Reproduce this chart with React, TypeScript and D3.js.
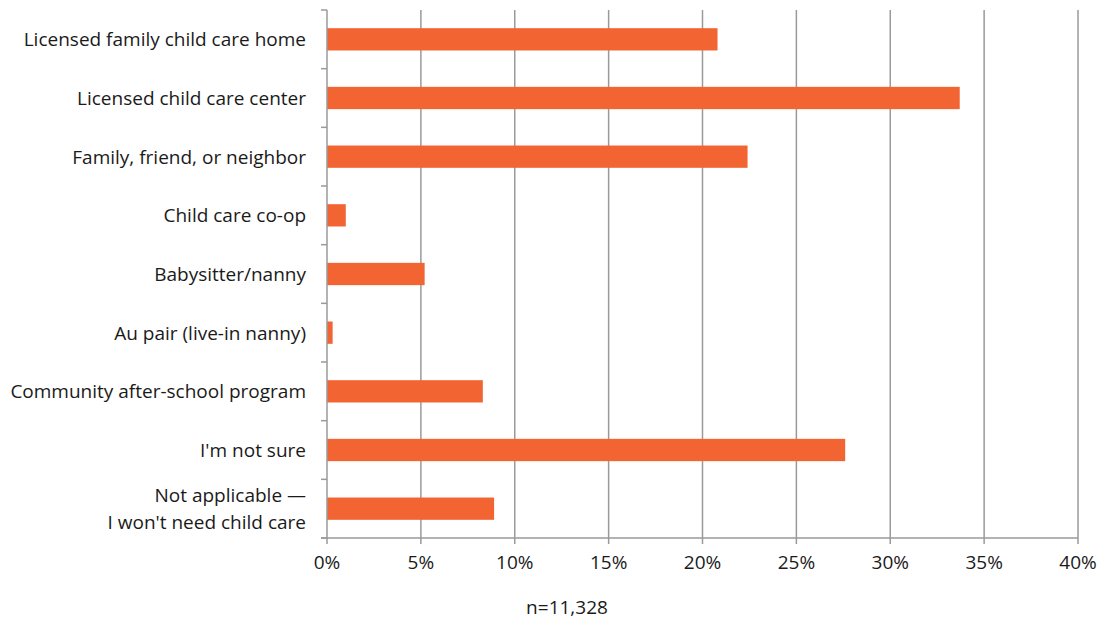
import * as d3 from 'd3'
import { useEffect, useRef } from 'react'

const categories = [
  'Licensed family child care home',
  'Licensed child care center',
  'Family, friend, or neighbor',
  'Child care co-op',
  'Babysitter/nanny',
  'Au pair (live-in nanny)',
  'Community after-school program',
  "I'm not sure",
  "Not applicable —\nI won't need child care",
]
const values = [20.8, 33.7, 22.4, 1.0, 5.2, 0.3, 8.3, 27.6, 8.9]
const xTicks = [0, 5, 10, 15, 20, 25, 30, 35, 40]
const note = 'n=11,328'

const W = 1100
const H = 620
const LEFT = 327
const RIGHT = 1078
const TOP = 10
const BOTTOM = 538
const BAR_COLOR = '#f26532'
const GRID = '#9a9a9a'
const FONT = '"Open Sans", sans-serif'
const FS = 19

export default function App() {
  const svgRef = useRef<SVGSVGElement>(null)

  useEffect(() => {
    if (!svgRef.current) return
    const svg = d3.select(svgRef.current)
    svg.selectAll('*').remove()

    const x = d3.scaleLinear().domain([0, 40]).range([LEFT, RIGHT])
    const y = d3.scaleBand<string>()
      .domain(categories)
      .range([TOP, BOTTOM])
      .paddingInner(0.62)
      .paddingOuter(0.31)

    // vertical gridlines
    svg.append('g')
      .selectAll('line')
      .data(xTicks.slice(1))
      .enter()
      .append('line')
      .attr('x1', d => x(d))
      .attr('x2', d => x(d))
      .attr('y1', TOP)
      .attr('y2', BOTTOM)
      .attr('stroke', GRID)
      .attr('stroke-width', 1.5)

    // bars
    svg.append('g')
      .selectAll('rect')
      .data(categories)
      .enter()
      .append('rect')
      .attr('x', x(0))
      .attr('y', d => y(d)!)
      .attr('width', (_, i) => x(values[i]) - x(0))
      .attr('height', y.bandwidth())
      .attr('fill', BAR_COLOR)

    // y axis line + ticks
    svg.append('line')
      .attr('x1', LEFT).attr('x2', LEFT)
      .attr('y1', TOP).attr('y2', BOTTOM)
      .attr('stroke', GRID).attr('stroke-width', 1.5)
    const yEdges = categories.map(c => y(c)! - (y.step() * y.paddingInner()) / 2)
    yEdges.push(BOTTOM)
    svg.append('g')
      .selectAll('line')
      .data(yEdges)
      .enter()
      .append('line')
      .attr('x1', LEFT - 6).attr('x2', LEFT)
      .attr('y1', d => d).attr('y2', d => d)
      .attr('stroke', GRID).attr('stroke-width', 1.5)

    // x axis line + ticks
    svg.append('line')
      .attr('x1', LEFT - 6).attr('x2', RIGHT)
      .attr('y1', BOTTOM).attr('y2', BOTTOM)
      .attr('stroke', GRID).attr('stroke-width', 1.5)
    svg.append('g')
      .selectAll('line')
      .data(xTicks)
      .enter()
      .append('line')
      .attr('x1', d => x(d)).attr('x2', d => x(d))
      .attr('y1', BOTTOM).attr('y2', BOTTOM + 6)
      .attr('stroke', GRID).attr('stroke-width', 1.5)

    svg.append('g')
      .selectAll('text')
      .data(xTicks)
      .enter()
      .append('text')
      .attr('x', d => x(d))
      .attr('y', 562)
      .attr('text-anchor', 'middle')
      .attr('dominant-baseline', 'central')
      .attr('font-family', FONT)
      .attr('font-size', FS)
      .attr('fill', '#1a1a1a')
      .text(d => `${d}%`)

    // category labels
    const labels = svg.append('g')
      .selectAll('text')
      .data(categories)
      .enter()
      .append('text')
      .attr('text-anchor', 'end')
      .attr('font-family', FONT)
      .attr('font-size', FS)
      .attr('fill', '#1a1a1a')
    labels.each(function (d) {
      const lines = d.split('\n')
      const cy = y(d)! + y.bandwidth() / 2
      const t = d3.select(this)
      lines.forEach((ln, i) => {
        t.append('tspan')
          .attr('x', 306)
          .attr('y', cy + (i - (lines.length - 1) / 2) * 26.5)
          .attr('dominant-baseline', 'central')
          .text(ln)
      })
    })

    svg.append('text')
      .attr('x', 567)
      .attr('y', 607)
      .attr('text-anchor', 'middle')
      .attr('dominant-baseline', 'central')
      .attr('font-family', FONT)
      .attr('font-size', FS)
      .attr('fill', '#1a1a1a')
      .text(note)
  }, [])

  return (
    <svg ref={svgRef} width={W} height={H}
      style={{ position: 'absolute', left: 0, top: 0, background: '#fff' }} />
  )
}
